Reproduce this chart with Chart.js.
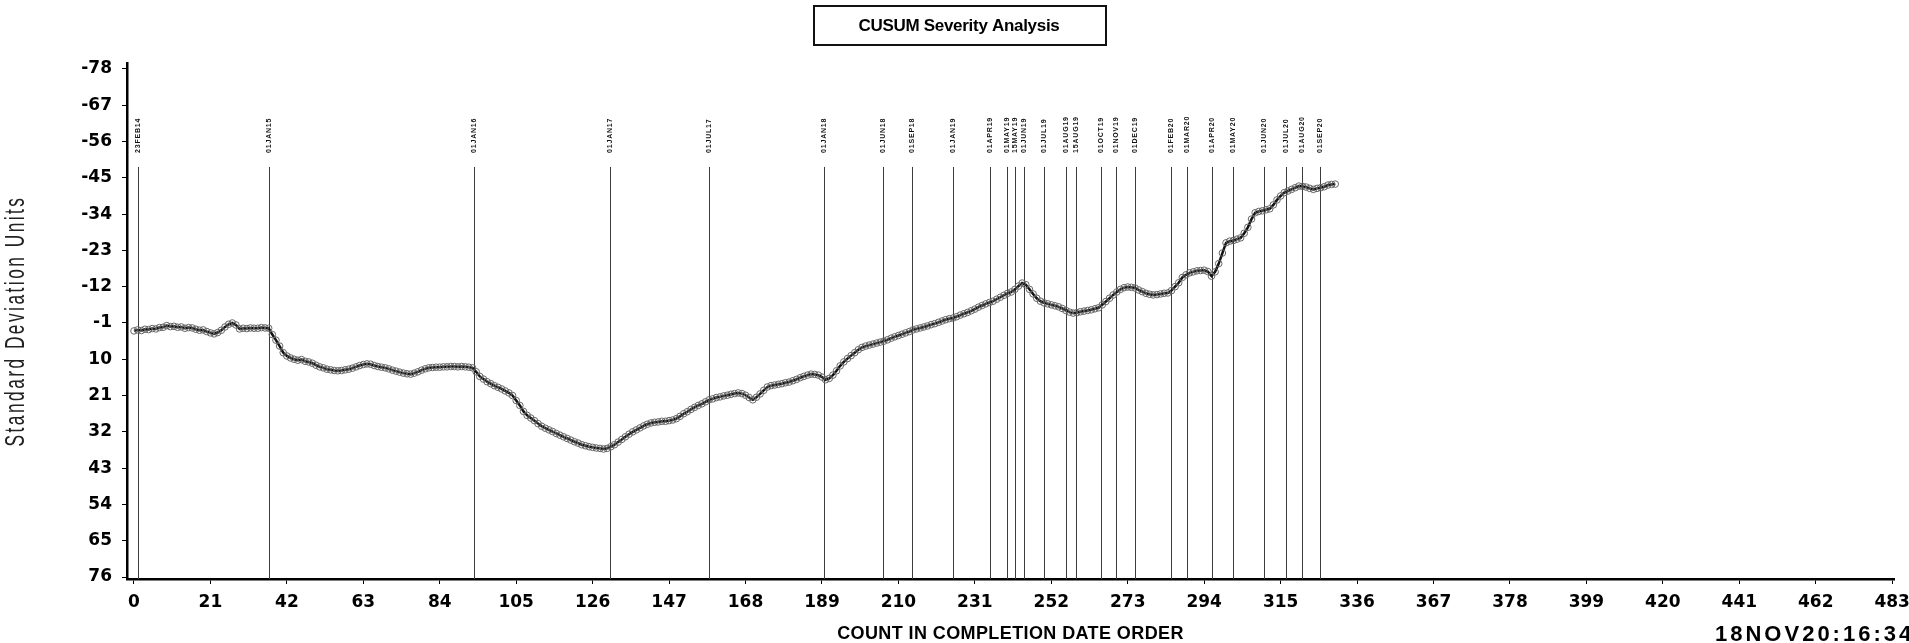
<!DOCTYPE html>
<html>
<head>
<meta charset="utf-8">
<title>CUSUM Severity Analysis</title>
<script src="https://cdn.jsdelivr.net/npm/chart.js@4.4.1/dist/chart.umd.min.js"></script>
<style>
  html, body { margin: 0; padding: 0; background: #fff; }
  canvas { display: block; }
</style>
</head>
<body>
<canvas id="cusum" width="1909" height="643"></canvas>
<script>
// CUSUM severity, one value per job in completion order
const severity = [
  1.4, 1.1, 1.3, 0.9, 1.0, 0.7, 0.8, 0.4, 0.3, -0.2,
  0.1, 0.0, 0.3, 0.2, 0.6, 0.4, 0.5, 0.9, 1.2, 1.1,
  1.6, 2.0, 2.3, 1.9, 1.2, 0.2, -0.6, -1.0, -0.4, 0.8,
  0.6, 0.7, 0.5, 0.6, 0.6, 0.4, 0.5, 0.6, 2.5, 4.2,
  6.0, 8.0, 9.0, 9.6, 10.0, 10.3, 10.1, 10.6, 10.8, 11.2,
  11.8, 12.3, 12.6, 13.0, 13.2, 13.4, 13.5, 13.4, 13.2, 13.0,
  12.7, 12.3, 11.9, 11.6, 11.4, 11.5, 11.9, 12.2, 12.4, 12.6,
  12.9, 13.3, 13.6, 13.9, 14.2, 14.4, 14.5, 14.2, 13.8, 13.3,
  12.9, 12.6, 12.5, 12.4, 12.4, 12.3, 12.3, 12.2, 12.2, 12.3,
  12.2, 12.3, 12.4, 12.6, 13.8, 15.2, 16.0, 16.8, 17.4, 18.0,
  18.5, 19.0, 19.6, 20.2, 21.0, 22.5, 24.0, 25.8, 27.0, 27.8,
  28.6, 29.5, 30.3, 30.9, 31.4, 31.9, 32.5, 33.0, 33.5, 34.0,
  34.5, 35.0, 35.4, 35.9, 36.2, 36.5, 36.7, 36.9, 37.0, 37.2,
  37.0, 36.5, 35.9, 35.1, 34.3, 33.5, 32.7, 32.0, 31.4, 30.8,
  30.2, 29.7, 29.3, 29.1, 29.0, 28.8, 28.8, 28.6, 28.4, 28.0,
  27.3, 26.5, 25.9, 25.2, 24.6, 24.0, 23.5, 22.9, 22.3, 22.0,
  21.6, 21.4, 21.1, 20.9, 20.6, 20.4, 20.2, 20.4, 20.9, 21.6,
  22.3, 21.5, 20.5, 19.4, 18.4, 18.0, 17.8, 17.6, 17.4, 17.1,
  16.9, 16.5, 16.1, 15.6, 15.2, 14.8, 14.5, 14.6, 14.8, 15.4,
  16.2, 15.8, 14.8, 13.5, 12.0, 10.8, 9.8, 8.9, 8.0, 7.1,
  6.4, 6.0, 5.7, 5.4, 5.1, 4.8, 4.5, 4.1, 3.6, 3.2,
  2.8, 2.4, 2.0, 1.6, 1.1, 0.8, 0.5, 0.2, -0.1, -0.5,
  -0.8, -1.2, -1.6, -2.0, -2.3, -2.5, -2.9, -3.4, -3.8, -4.2,
  -4.7, -5.2, -5.8, -6.3, -6.8, -7.2, -7.6, -8.2, -8.8, -9.4,
  -10.0, -10.4, -11.2, -12.2, -13.1, -12.6, -11.2, -9.8, -8.5, -7.6,
  -7.1, -6.8, -6.5, -6.2, -5.9, -5.4, -4.8, -4.3, -4.0, -4.1,
  -4.4, -4.6, -4.8, -5.0, -5.3, -5.6, -6.5, -7.5, -8.5, -9.5,
  -10.4, -11.2, -11.7, -11.9, -11.8, -11.6, -11.0, -10.5, -10.0, -9.7,
  -9.5, -9.6, -9.8, -10.0, -10.1, -10.8, -12.0, -13.2, -14.8, -15.6,
  -16.2, -16.5, -16.8, -16.9, -17.0, -16.6, -15.2, -16.5, -19.0, -22.2,
  -25.3, -25.8, -26.0, -26.4, -26.8, -28.2, -30.0, -32.5, -34.4, -34.8,
  -35.0, -35.3, -35.6, -36.8, -38.3, -39.5, -40.5, -41.0, -41.5, -42.0,
  -42.5, -42.4, -42.2, -41.8, -41.5, -41.8, -42.0, -42.3, -42.8, -43.0, -43.1
];

// Reference dates marked as vertical lines (position in completion count)
const eventCounts = [1.1, 37.1, 93.4, 130.8, 158.0, 189.6, 205.8, 213.7, 225.0, 235.2,
  239.8, 242.0, 244.5, 250.0, 256.0, 258.8, 265.7, 269.8, 275.0, 284.9,
  289.3, 296.2, 301.9, 310.4, 316.5, 320.9, 325.8];
const eventLabels = ['23FEB14', '01JAN15', '01JAN16', '01JAN17', '01JUL17', '01JAN18', '01JUN18',
  '01SEP18', '01JAN19', '01APR19', '01MAY19', '15MAY19', '01JUN19', '01JUL19', '01AUG19',
  '15AUG19', '01OCT19', '01NOV19', '01DEC19', '01FEB20', '01MAR20', '01APR20', '01MAY20',
  '01JUN20', '01JUL20', '01AUG20', '01SEP20'];

const xTickValues = [0, 21, 42, 63, 84, 105, 126, 147, 168, 189, 210, 231, 252, 273, 294,
  315, 336, 357, 378, 399, 420, 441, 462, 483];
const xTickLabels = ['0', '21', '42', '63', '84', '105', '126', '147', '168', '189', '210', '231',
  '252', '273', '294', '315', '336', '367', '378', '399', '420', '441', '462', '483'];
const yTickValues = [-78, -67, -56, -45, -34, -23, -12, -1, 10, 21, 32, 43, 54, 65, 76];
const yTickLabels = ['-78', '-67', '-56', '-45', '-34', '-23', '-12', '-1', '10', '21', '32',
  '43', '54', '65', '76'];

const chartTitle = 'CUSUM Severity Analysis';
const xTitle = 'COUNT IN COMPLETION DATE ORDER';
const yTitle = 'Standard Deviation Units';
const runStamp = '18NOV20:16:34';

// value at which the event reference lines begin
const EVENT_LINE_TOP = -48.3;

const points = severity.map((v, i) => ({ x: i, y: v }));

const eventLines = {
  id: 'eventLines',
  beforeDatasetsDraw(chart) {
    const { ctx, chartArea, scales: { x, y } } = chart;
    const top = y.getPixelForValue(EVENT_LINE_TOP);
    ctx.save();
    ctx.strokeStyle = '#3c3c3c';
    ctx.lineWidth = 1;
    eventCounts.forEach((c, i) => {
      const px = Math.round(x.getPixelForValue(c)) + 0.5;
      ctx.beginPath();
      ctx.moveTo(px, top);
      ctx.lineTo(px, chartArea.bottom);
      ctx.stroke();
      ctx.save();
      ctx.translate(px - 0.5, top - 14);
      ctx.rotate(-Math.PI / 2);
      ctx.font = 'bold 7px "Liberation Sans"';
      ctx.letterSpacing = '0.8px';
      ctx.fillStyle = '#111';
      ctx.textAlign = 'left';
      ctx.textBaseline = 'middle';
      ctx.fillText(eventLabels[i], 0, 0);
      ctx.restore();
    });
    ctx.restore();
  }
};

const captions = {
  id: 'captions',
  afterDraw(chart) {
    const { ctx, chartArea } = chart;
    ctx.save();
    // boxed title
    ctx.strokeStyle = '#111';
    ctx.lineWidth = 2;
    ctx.strokeRect(814, 6, 292, 39);
    ctx.fillStyle = '#000';
    ctx.font = 'bold 17px "Liberation Sans"';
    ctx.letterSpacing = '-0.3px';
    ctx.textAlign = 'center';
    ctx.textBaseline = 'middle';
    ctx.fillText(chartTitle, 959, 26);

    // x axis title
    ctx.font = 'bold 18px "Liberation Sans"';
    ctx.letterSpacing = '0.4px';
    ctx.fillText(xTitle, (chartArea.left + chartArea.right) / 2, 634);

    // run stamp
    ctx.font = 'bold 22px "Liberation Sans"';
    ctx.letterSpacing = '3px';
    ctx.textAlign = 'left';
    ctx.fillText(runStamp, 1715, 635);

    // y axis title, narrow and spaced
    ctx.save();
    ctx.translate(16, (chartArea.top + chartArea.bottom) / 2);
    ctx.rotate(-Math.PI / 2);
    ctx.font = '28px "Liberation Sans"';
    ctx.letterSpacing = '4px';
    const w = ctx.measureText(yTitle).width;
    const sx = 251 / w;
    ctx.scale(sx, 1);
    ctx.fillStyle = '#222';
    ctx.textAlign = 'left';
    ctx.fillText(yTitle, -w / 2, 0);
    ctx.restore();
    ctx.restore();
  }
};

const tickFont = { family: '"DejaVu Sans"', size: 17, weight: 'bold' };

new Chart(document.getElementById('cusum'), {
  type: 'line',
  data: {
    datasets: [{
      data: points,
      borderColor: '#111',
      borderWidth: 2.5,
      pointRadius: 3.3,
      pointBorderWidth: 1,
      pointBorderColor: '#666',
      pointBackgroundColor: 'rgba(0,0,0,0)',
      pointStyle: 'circle',
      tension: 0,
      fill: false
    }]
  },
  options: {
    responsive: false,
    animation: false,
    devicePixelRatio: 1,
    layout: { padding: { top: 63, right: 15, left: 0, bottom: 0 } },
    plugins: { legend: { display: false }, tooltip: { enabled: false }, title: { display: false } },
    scales: {
      x: {
        type: 'linear',
        min: -1.92,
        max: 483.5,
        afterBuildTicks: s => { s.ticks = xTickValues.map(v => ({ value: v })); },
        afterFit: s => { s.height = 64; s.paddingLeft = 0; s.paddingRight = 0; },
        ticks: {
          autoSkip: false,
          maxRotation: 0,
          padding: 8,
          color: '#000',
          font: tickFont,
          callback: (v, i) => xTickLabels[i]
        },
        grid: { drawOnChartArea: false, drawTicks: true, tickLength: 5, color: '#000', lineWidth: 1 },
        border: { display: true, color: '#000', width: 2.5 }
      },
      y: {
        type: 'linear',
        reverse: true,
        min: -79.8,
        max: 76.6,
        afterBuildTicks: s => { s.ticks = yTickValues.map(v => ({ value: v })); },
        afterFit: s => { s.width = 127; s.paddingTop = 0; s.paddingBottom = 0; },
        ticks: {
          padding: 10,
          color: '#000',
          font: tickFont,
          callback: (v, i) => yTickLabels[i]
        },
        grid: { drawOnChartArea: false, drawTicks: true, tickLength: 5, color: '#000', lineWidth: 1 },
        border: { display: true, color: '#000', width: 2.5 }
      }
    }
  },
  plugins: [eventLines, captions]
});
</script>
</body>
</html>
